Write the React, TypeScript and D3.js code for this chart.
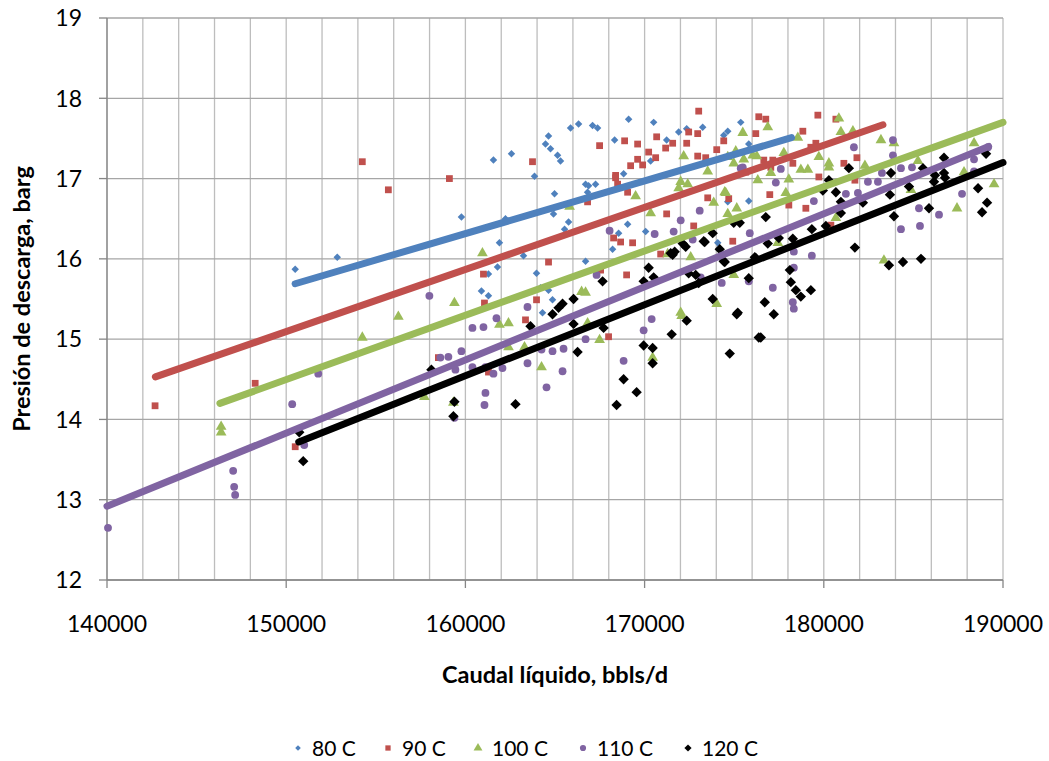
import * as React from 'react';
import * as d3 from 'd3';

// caudal (bbls/d), presion (barg)
const s80x = [150503, 152850, 159778, 161566, 162571, 162236, 161901, 161790, 161287, 160896, 161287, 163857, 164471, 164639, 164750, 165142, 165309, 165868, 166315, 167097, 167376, 169108, 170505, 171231, 171902, 172349, 173243, 175366, 174640, 174416, 175813, 168326, 168829, 166706, 166873, 167264, 166818, 164974, 164918, 165756, 165533, 169052, 170058, 168550, 168214, 166706, 163968, 163242, 170337, 174081, 175813, 174640, 164639, 164862, 164192, 164303];
const s80y = [15.87, 16.02, 16.52, 17.23, 17.31, 16.50, 16.20, 15.90, 15.81, 15.60, 15.54, 17.03, 17.43, 17.53, 17.37, 17.29, 17.22, 17.63, 17.68, 17.66, 17.63, 17.74, 17.70, 17.48, 17.58, 17.62, 17.64, 17.70, 17.59, 17.54, 17.43, 17.48, 17.06, 16.93, 16.91, 16.93, 16.83, 16.81, 16.56, 16.46, 16.37, 16.43, 16.34, 16.32, 16.12, 15.97, 15.82, 16.04, 17.22, 16.20, 16.72, 16.71, 15.61, 15.49, 15.64, 15.33];

const s90x = [142682, 148269, 154247, 155700, 159108, 161008, 161064, 163745, 164639, 163969, 163354, 158493, 161287, 167488, 168885, 169611, 170673, 171175, 171566, 172349, 172460, 172963, 173019, 176371, 176204, 174416, 174025, 172963, 173410, 170617, 170226, 169611, 169891, 169220, 168382, 168382, 168494, 169052, 166818, 171231, 173522, 174695, 175645, 172740, 174919, 168270, 168661, 169331, 167544, 168997, 170896, 167990, 176762, 179668, 180674, 178830, 179556, 179277, 178272, 177043, 176651, 177154, 181847, 179724, 181120, 176986, 178048, 178998, 180394, 181735, 150503];
const s90y = [14.17, 14.45, 17.21, 16.86, 17.00, 15.81, 15.45, 17.21, 15.96, 15.49, 15.24, 14.77, 14.59, 17.41, 17.47, 17.43, 17.52, 17.38, 17.44, 17.44, 17.58, 17.56, 17.84, 17.77, 17.56, 17.47, 17.36, 17.28, 17.26, 17.26, 17.33, 17.24, 17.17, 17.16, 17.04, 17.01, 16.93, 16.83, 16.71, 16.56, 16.76, 16.75, 17.08, 16.41, 16.22, 16.26, 16.21, 16.20, 15.86, 15.80, 16.06, 15.03, 17.74, 17.79, 17.74, 17.59, 17.44, 17.39, 17.19, 17.14, 17.23, 17.23, 17.26, 17.02, 17.19, 16.80, 16.67, 16.63, 16.42, 16.98, 13.66];

const s100x = [146369, 146369, 154247, 156258, 159387, 160951, 161901, 162404, 162404, 163298, 164248, 157711, 159331, 167488, 166818, 170449, 172069, 166483, 166706, 165812, 169499, 170337, 172181, 172014, 172405, 171902, 173522, 175478, 176260, 175534, 174975, 174472, 173857, 174640, 175143, 172573, 174025, 174975, 171287, 176874, 180841, 175087, 174640, 176036, 177770, 178048, 178551, 178719, 179110, 179724, 180283, 180283, 180954, 181624, 182295, 183189, 183915, 176316, 177043, 177881, 174528, 180674, 177433, 185255, 188384, 189501, 187434, 183356, 184864, 187825, 172014];
const s100y = [13.91, 13.84, 15.02, 15.28, 15.45, 16.07, 15.18, 15.20, 14.90, 14.90, 14.65, 14.28, 14.21, 14.99, 15.20, 14.77, 15.29, 15.59, 15.58, 16.65, 16.78, 16.57, 17.28, 16.96, 16.93, 16.88, 17.09, 17.57, 17.28, 17.24, 17.19, 16.83, 16.70, 16.56, 16.63, 16.02, 15.44, 15.80, 16.06, 17.64, 17.75, 17.34, 17.27, 17.29, 17.32, 16.99, 17.51, 17.11, 17.11, 17.27, 17.19, 17.14, 17.58, 17.59, 17.16, 17.48, 17.44, 16.98, 17.07, 16.82, 16.82, 16.51, 16.20, 17.22, 17.44, 16.93, 16.63, 15.98, 16.86, 17.08, 15.33];

const s110x = [140056, 147040, 147096, 147152, 150335, 151006, 151788, 157990, 158604, 159051, 159778, 159443, 160393, 161008, 161734, 160393, 161119, 161119, 161064, 161566, 162069, 159387, 163465, 163465, 164248, 164862, 165477, 164527, 165421, 166706, 168829, 169947, 170393, 168047, 170561, 171622, 172014, 173075, 167320, 175366, 175869, 174305, 175813, 173131, 172684, 175478, 177322, 177601, 179445, 178327, 177154, 178327, 178271, 178327, 179333, 181680, 181233, 181903, 182462, 183020, 183244, 183859, 183859, 184306, 184921, 185311, 186429, 184306, 185367, 187714, 188384, 188384, 189162];
const s110y = [12.65, 13.36, 13.16, 13.06, 14.19, 13.68, 14.57, 15.54, 14.77, 14.78, 14.85, 14.62, 15.14, 15.15, 15.26, 14.65, 14.65, 14.33, 14.18, 14.57, 14.64, 14.02, 15.40, 14.70, 14.87, 14.85, 14.88, 14.40, 14.60, 15.00, 14.73, 15.11, 15.25, 16.35, 16.31, 16.34, 16.48, 16.60, 15.80, 17.13, 16.32, 15.70, 15.72, 15.77, 16.24, 17.14, 16.95, 17.12, 16.72, 16.09, 15.64, 15.89, 15.46, 15.38, 16.04, 17.39, 16.81, 16.82, 16.96, 16.96, 17.07, 17.48, 17.29, 17.13, 17.14, 16.63, 16.55, 16.37, 16.41, 16.81, 17.24, 17.09, 17.39];

const s120x = [150727, 150950, 158102, 159387, 159331, 162795, 163633, 164862, 165197, 165421, 166036, 166036, 166259, 167656, 167712, 168829, 169555, 168438, 169947, 170449, 170449, 171511, 172349, 170226, 169947, 170505, 171566, 171678, 171455, 172125, 172293, 172460, 172852, 173019, 173299, 174193, 174416, 174975, 175813, 176204, 173801, 175198, 174752, 176371, 173801, 175310, 174472, 176762, 176874, 177489, 178271, 176148, 178104, 178160, 178439, 178718, 179277, 176706, 177209, 175142, 176483, 179333, 180115, 179947, 180283, 180674, 180953, 180953, 181400, 182182, 181735, 183747, 183691, 183915, 184753, 185870, 186206, 186150, 186707, 186763, 186707, 185534, 183635, 184417, 185423, 188608, 189055, 188831, 189111, 173355];
const s120y = [13.84, 13.48, 14.62, 14.22, 14.04, 14.19, 15.16, 15.31, 15.39, 15.44, 15.50, 15.19, 14.84, 15.72, 15.14, 14.50, 14.34, 14.18, 14.92, 14.89, 14.70, 15.06, 15.23, 15.89, 15.72, 15.77, 16.05, 16.09, 16.07, 16.19, 16.15, 15.82, 15.80, 15.70, 16.22, 16.12, 15.97, 16.45, 15.76, 16.01, 15.50, 15.33, 14.82, 15.02, 16.32, 16.45, 15.96, 16.52, 16.19, 16.26, 16.25, 16.02, 15.86, 15.71, 15.61, 15.53, 15.61, 15.46, 15.31, 15.31, 15.02, 16.37, 16.41, 16.85, 16.98, 16.83, 16.71, 16.57, 17.13, 16.70, 16.14, 17.07, 16.80, 16.53, 16.90, 16.63, 17.04, 16.96, 17.07, 17.01, 17.26, 17.13, 15.92, 15.96, 16.00, 16.88, 17.31, 16.58, 16.70, 16.21];

// linear trendline end points [x0, y0, x1, y1]
const trend80 = [150500, 15.69, 178200, 17.51];
const trend90 = [142700, 14.53, 183300, 17.67];
const trend100 = [146300, 14.20, 190000, 17.70];
const trend110 = [140000, 12.92, 189200, 17.40];
const trend120 = [150700, 13.72, 190000, 17.20];

const labels = ['80 C', '90 C', '100 C', '110 C', '120 C'];
const colors = ['#4F81BD', '#C0504D', '#9BBB59', '#8064A2', '#000000'];

const W = 1049;
const H = 761;
const m = { left: 107, right: 1003, top: 18, bottom: 580 };
const FONT = 'Lato, "Open Sans", sans-serif';

// marker shape per series: [symbol, size, rotate]
const markers: [d3.SymbolType, number, number][] = [
  [d3.symbolSquare, 28, 45],
  [d3.symbolSquare, 46, 0],
  [d3.symbolTriangle, 50, 0],
  [d3.symbolCircle, 48, 0],
  [d3.symbolSquare, 54, 45],
];
const legendMarkers: [d3.SymbolType, number, number][] = [
  [d3.symbolSquare, 16, 45],
  [d3.symbolSquare, 28, 0],
  [d3.symbolTriangle, 34, 0],
  [d3.symbolCircle, 30, 0],
  [d3.symbolSquare, 26, 45],
];

export default function App() {
  const x = d3.scaleLinear().domain([140000, 190000]).range([m.left, m.right]);
  const y = d3.scaleLinear().domain([12, 19]).range([m.bottom, m.top]);

  const series = [
    [s80x, s80y],
    [s90x, s90y],
    [s100x, s100y],
    [s110x, s110y],
    [s120x, s120y],
  ];
  const trends = [trend80, trend90, trend100, trend110, trend120];

  const xGrid = d3.range(140000, 190001, 2000);
  const xTicks = x.ticks(5);
  const yTicks = y.ticks(7);

  const line = d3.line<[number, number]>().x(d => x(d[0])).y(d => y(d[1]));

  // legend layout
  const legendX = [298, 388, 478, 583, 688];
  const legendY = 748;

  return (
    <div style={{ position: 'absolute', left: 0, top: 0 }}>
      <svg width={W} height={H} style={{ display: 'block', background: '#fff' }}>
        <g>
          {xGrid.map(v => (
            <line key={'gx' + v} x1={x(v)} x2={x(v)} y1={m.top} y2={m.bottom} stroke="#bdbdbd" strokeWidth={1.3} />
          ))}
          {yTicks.map(v => (
            <line key={'gy' + v} x1={m.left} x2={m.right} y1={y(v)} y2={y(v)} stroke="#a6a6a6" strokeWidth={1.3} />
          ))}
        </g>
        <line x1={m.left} x2={m.left} y1={m.top} y2={m.bottom} stroke="#868686" strokeWidth={1.3} />
        <line x1={m.left} x2={m.right} y1={m.bottom} y2={m.bottom} stroke="#868686" strokeWidth={1.3} />
        {yTicks.map(v => (
          <g key={'ty' + v}>
            <line x1={m.left - 8} x2={m.left} y1={y(v)} y2={y(v)} stroke="#868686" strokeWidth={1.3} />
            <text x={82} y={y(v)} dy="0.36em" textAnchor="end" fontFamily={FONT} fontSize={23} fill="#000">{v}</text>
          </g>
        ))}
        {xTicks.map(v => (
          <g key={'tx' + v}>
            <line x1={x(v)} x2={x(v)} y1={m.bottom} y2={m.bottom + 8} stroke="#868686" strokeWidth={1.3} />
            <text x={x(v)} y={632} textAnchor="middle" fontFamily={FONT} fontSize={23} fill="#000">{v}</text>
          </g>
        ))}

        {series.map(([xs, ys], i) => {
          const [sym, size, rot] = markers[i];
          const d = d3.symbol().type(sym).size(size)()!;
          return (
            <g key={'s' + i} fill={colors[i]}>
              {xs.map((xv, j) => (
                <path key={j} d={d} transform={`translate(${x(xv)},${y(ys[j])}) rotate(${rot})`} />
              ))}
            </g>
          );
        })}

        {trends.map((t, i) => (
          <path
            key={'t' + i}
            d={line([[t[0], t[1]], [t[2], t[3]]])!}
            stroke={colors[i]}
            strokeWidth={7}
            strokeLinecap="round"
            fill="none"
          />
        ))}

        <text
          transform={`translate(22,${(m.top + m.bottom) / 2}) rotate(-90)`}
          dy="0.36em"
          textAnchor="middle"
          fontFamily={FONT}
          fontWeight="bold"
          fontSize={23.5}
        >
          Presión de descarga, barg
        </text>
        <text x={(m.left + m.right) / 2} y={683} textAnchor="middle" fontFamily={FONT} fontWeight="bold" fontSize={23.5}>
          Caudal líquido, bbls/d
        </text>

        {labels.map((l, i) => {
          const [sym, size, rot] = legendMarkers[i];
          const d = d3.symbol().type(sym).size(size)()!;
          return (
            <g key={'l' + i}>
              <path d={d} fill={colors[i]} transform={`translate(${legendX[i]},${legendY}) rotate(${rot})`} />
              <text x={legendX[i] + 14} y={legendY} dy="0.36em" fontFamily={FONT} fontSize={21}>{l}</text>
            </g>
          );
        })}
      </svg>
    </div>
  );
}
